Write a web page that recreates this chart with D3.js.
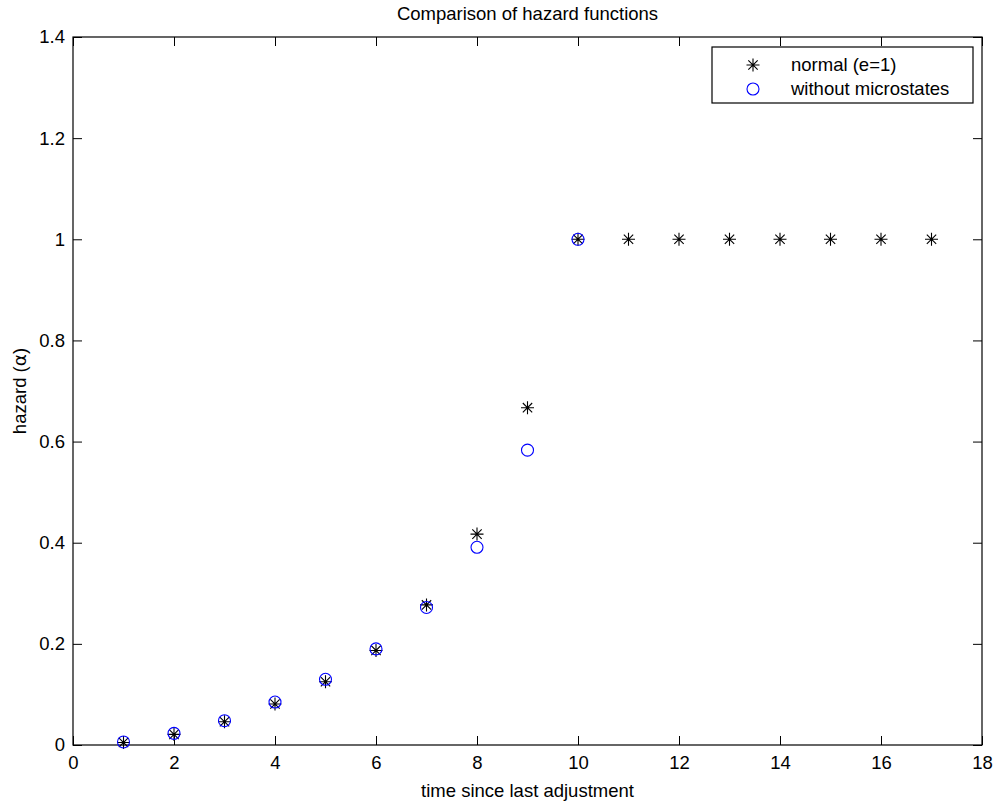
<!DOCTYPE html>
<html><head><meta charset="utf-8">
<script src="https://cdn.jsdelivr.net/npm/d3@7"></script>
<style>body{margin:0;background:#fff}svg{display:block;font-family:"Liberation Sans",Arial,sans-serif}</style>
</head><body>
<svg id="c" width="997" height="805"></svg>
<script>
const xNormal = [1,2,3,4,5,6,7,8,9,10,11,12,13,14,15,16,17];
const yNormal = [0.005,0.021,0.046,0.081,0.125,0.187,0.277,0.417,0.667,1,1,1,1,1,1,1,1];
const xWithout = [1,2,3,4,5,6,7,8,9,10];
const yWithout = [0.006,0.023,0.048,0.085,0.13,0.19,0.272,0.391,0.583,1];
const xTicks = [0,2,4,6,8,10,12,14,16,18];
const yTicks = [0,0.2,0.4,0.6,0.8,1,1.2,1.4];
const legendLabels = ["normal (e=1)","without microstates"];

const svg = d3.select("#c");
const L=73, R=982, T=37, B=745;
const x = d3.scaleLinear().domain([0,18]).range([L,R]);
const y = d3.scaleLinear().domain([0,1.4]).range([B,T]);
const fs = 18.5;

const ax = (g)=>{g.selectAll(".domain").remove();g.selectAll("line").attr("stroke","#000");};
svg.append("g").attr("transform",`translate(0,${B})`)
  .call(d3.axisBottom(x).tickValues(xTicks).tickSizeInner(-9).tickSizeOuter(0).tickPadding(11).tickFormat(d3.format("d")))
  .call(ax).selectAll("text").attr("font-size",fs).attr("fill","#000").attr("font-family","Liberation Sans, Arial");
svg.append("g").attr("transform",`translate(0,${T})`)
  .call(d3.axisTop(x).tickValues(xTicks).tickSizeInner(-9).tickSizeOuter(0).tickFormat(""))
  .call(ax);
svg.append("g").attr("transform",`translate(${L},0)`)
  .call(d3.axisLeft(y).tickValues(yTicks).tickSizeInner(-9).tickSizeOuter(0).tickPadding(8).tickFormat(d=>d===0?"0":(d===1?"1":d3.format(".1f")(d))))
  .call(ax).selectAll("text").attr("font-size",fs).attr("fill","#000").attr("font-family","Liberation Sans, Arial");
svg.append("g").attr("transform",`translate(${R},0)`)
  .call(d3.axisRight(y).tickValues(yTicks).tickSizeInner(-9).tickSizeOuter(0).tickFormat(""))
  .call(ax);
svg.append("rect").attr("x",L).attr("y",T).attr("width",R-L).attr("height",B-T)
  .attr("fill","none").attr("stroke","#000").attr("stroke-width",1.2);

function star(g, cx, cy, r){
  const d = r*0.72;
  const p = `M${cx-r},${cy}L${cx+r},${cy}M${cx},${cy-r}L${cx},${cy+r}M${cx-d},${cy-d}L${cx+d},${cy+d}M${cx-d},${cy+d}L${cx+d},${cy-d}`;
  g.append("path").attr("d",p).attr("stroke","#000").attr("stroke-width",1.1).attr("fill","none");
}
const gs = svg.append("g");
xNormal.forEach((v,i)=>star(gs, x(v), y(yNormal[i]), 6.5));
svg.append("g").selectAll("circle").data(xWithout).join("circle")
  .attr("cx",d=>x(d)).attr("cy",(d,i)=>y(yWithout[i])).attr("r",6)
  .attr("fill","none").attr("stroke","#0000ff").attr("stroke-width",1.1);

// legend
const lg = svg.append("g");
lg.append("rect").attr("x",712).attr("y",47).attr("width",261).attr("height",56)
  .attr("fill","#fff").attr("stroke","#000").attr("stroke-width",1.2);
star(lg, 753, 65, 6.5);
lg.append("circle").attr("cx",753).attr("cy",89).attr("r",6).attr("fill","none").attr("stroke","#0000ff").attr("stroke-width",1.1);
legendLabels.forEach((t,i)=>lg.append("text").attr("x",791).attr("y",65+i*24).attr("dy","0.35em")
  .attr("font-size",fs).attr("fill","#000").text(t));

svg.append("text").attr("x",(L+R)/2).attr("y",14).attr("dy","0.35em").attr("text-anchor","middle")
  .attr("font-size",fs).text("Comparison of hazard functions");
svg.append("text").attr("x",(L+R)/2).attr("y",791).attr("dy","0.35em").attr("text-anchor","middle")
  .attr("font-size",fs).text("time since last adjustment");
const yl = svg.append("text").attr("transform",`translate(20,${(T+B)/2}) rotate(-90)`).attr("dy","0.35em")
  .attr("text-anchor","middle").attr("font-size",fs);
yl.append("tspan").text("hazard (");
yl.append("tspan").attr("font-family","DejaVu Sans, sans-serif").text("α");
yl.append("tspan").text(")");
</script>
</body></html>
